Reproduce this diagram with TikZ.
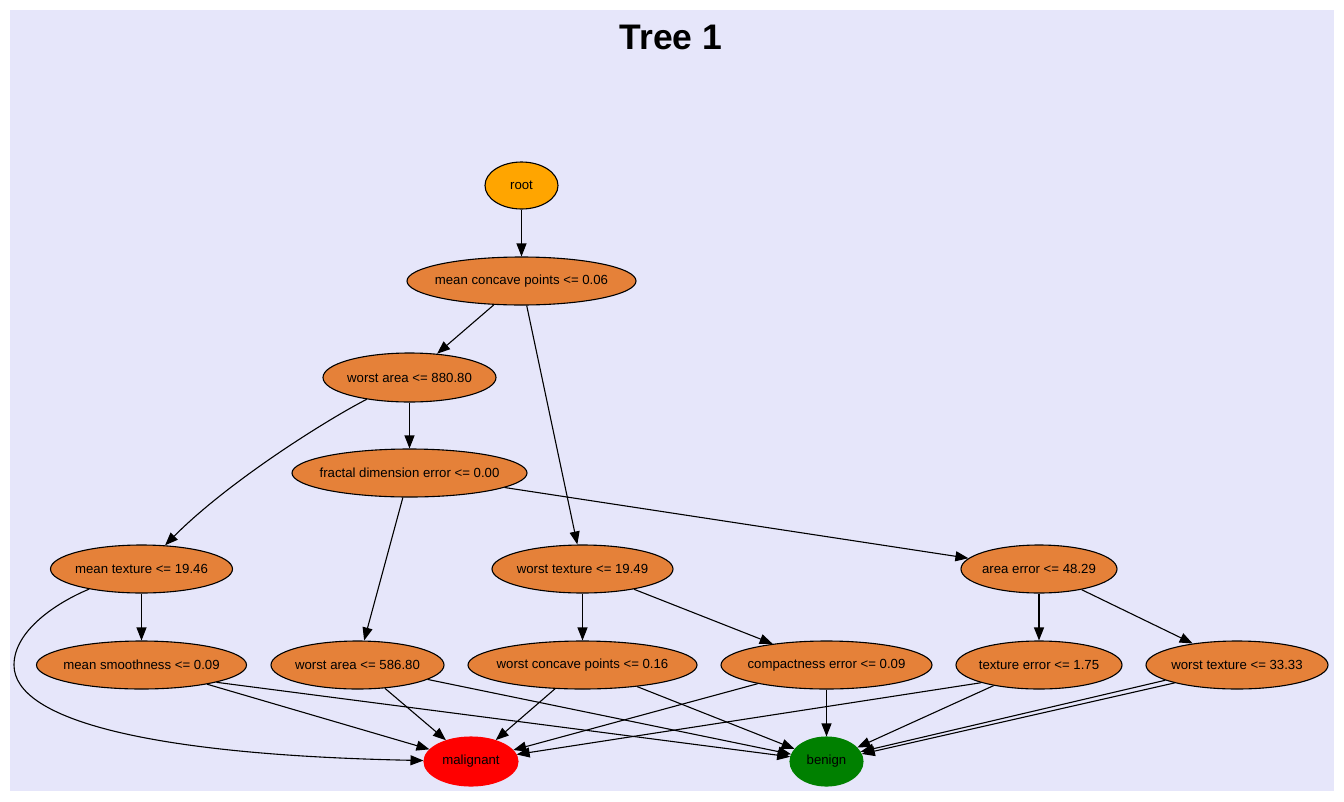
\documentclass[tikz,border=0pt]{standalone}
\usepackage{fontspec}
\setmainfont{Liberation Sans}
\usetikzlibrary{shapes.geometric,arrows.meta}
\definecolor{bgc}{HTML}{E6E6FA}
\definecolor{innerc}{HTML}{E58139}
\definecolor{rootc}{HTML}{FFA500}
\definecolor{malc}{HTML}{FF0000}
\definecolor{benc}{HTML}{008000}
\newcommand{\TT}[1]{\makebox[0pt]{#1}}
\begin{document}
\begin{tikzpicture}[x=1pt,y=-1pt,
  tn/.style={ellipse, draw=black, line width=1.1pt, fill=innerc, inner sep=0pt,
    minimum height=48pt, font=\fontsize{13.2}{15}\selectfont},
  edge/.style={line width=1.1pt, -{Triangle[length=13pt,width=10pt]}},
]
\useasboundingbox (0,0) rectangle (1344,801);
\fill[bgc] (10,10) rectangle (1334,791);
\node[anchor=base, font=\fontsize{35.5}{40}\selectfont\bfseries] (title) at (671,49) {Tree 1};
% nodes
\node[tn, fill=rootc, minimum width=73pt, minimum height=47pt] (root) at (521.5,185.5) {\TT{root}};
\node[tn, minimum width=229pt] (mcp) at (521.5,281) {\TT{mean concave points <= 0.06}};
\node[tn, minimum width=173pt, minimum height=49pt] (wa880) at (409.5,377.5) {\TT{worst area <= 880.80}};
\node[tn, minimum width=235pt] (fde) at (409.5,473) {\TT{fractal dimension error <= 0.00}};
\node[tn, minimum width=182pt] (mt) at (141.5,569) {\TT{mean texture <= 19.46}};
\node[tn, minimum width=181pt] (wt1949) at (582.5,569) {\TT{worst texture <= 19.49}};
\node[tn, minimum width=156pt] (ae) at (1039,569) {\TT{area error <= 48.29}};
\node[tn, minimum width=210pt] (ms) at (141.5,665) {\TT{mean smoothness <= 0.09}};
\node[tn, minimum width=173pt] (wa586) at (357.5,665) {\TT{worst area <= 586.80}};
\node[tn, minimum width=229pt] (wcp) at (582.5,665) {\TT{worst concave points <= 0.16}};
\node[tn, minimum width=211pt] (ce) at (826.5,665) {\TT{compactness error <= 0.09}};
\node[tn, minimum width=166pt] (te) at (1039,665) {\TT{texture error <= 1.75}};
\node[tn, minimum width=182pt] (wt33) at (1237,665) {\TT{worst texture <= 33.33}};
\node[tn, draw=malc, fill=malc, minimum width=94pt, minimum height=49pt] (mal) at (471,761.5) {\TT{malignant}};
\node[tn, draw=benc, fill=benc, minimum width=73pt, minimum height=49pt] (ben) at (826.5,761.5) {\TT{benign}};
% edges
\draw[edge] (root) -- (mcp);
\draw[edge] (mcp) -- (wa880);
\draw[edge] (mcp) -- (wt1949);
\draw[edge] (wa880) -- (fde);
\draw[edge] (wa880.207) .. controls (330,418) and (230,480) .. (mt);
\draw[edge] (fde) -- (wa586);
\draw[edge] (fde) -- (ae);
\draw[edge] (mt) -- (ms);
\draw[edge] (mt.201) .. controls (58,602) and (14,630) .. (14,665)
  .. controls (14,720) and (150,755) .. (mal);
\draw[edge] (wt1949) -- (wcp);
\draw[edge] (wt1949) -- (ce);
\draw[edge] (ae) -- (te);
\draw[edge] (ae) -- (wt33);
\draw[edge] (ms) -- (mal);
\draw[edge] (ms.-13) -- (ben);
\draw[edge] (wa586) -- (mal);
\draw[edge] (wa586) -- (ben);
\draw[edge] (wcp) -- (mal);
\draw[edge] (wcp) -- (ben);
\draw[edge] (ce) -- (mal);
\draw[edge] (ce) -- (ben);
\draw[edge] (te.197) -- (mal);
\draw[edge] (te) -- (ben);
\draw[edge] (wt33.192) -- (ben.16);
\draw[edge] (wt33.196) -- (ben.12);
\end{tikzpicture}
\end{document}
